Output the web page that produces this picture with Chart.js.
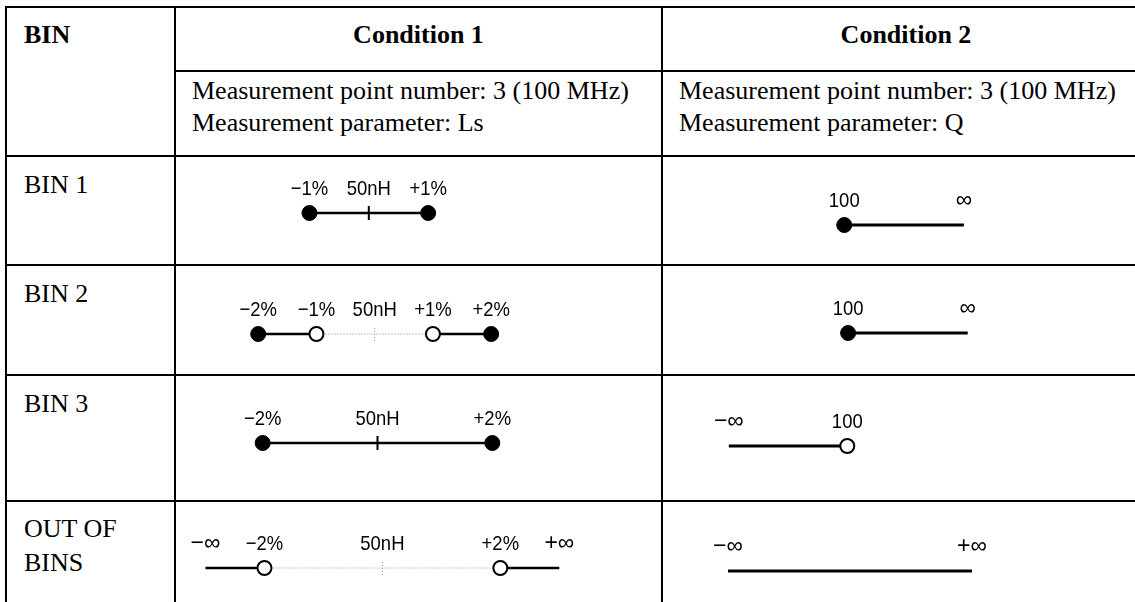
<!DOCTYPE html>
<html><head><meta charset="utf-8">
<script src="https://cdn.jsdelivr.net/npm/chart.js@4.4.1/dist/chart.umd.min.js"></script>
<style>
html,body{margin:0;padding:0;background:#fff;width:1135px;height:602px;overflow:hidden;position:relative}
.ln{position:absolute;background:#000}
.tx{position:absolute;font-family:"Liberation Serif","Times New Roman",serif;font-size:26px;line-height:32px;color:#000;white-space:nowrap}
.b{font-weight:bold}
canvas{position:absolute}
</style></head><body>
<script>
// ---------------- DATA ----------------
const columnHeaders = ['BIN', 'Condition 1', 'Condition 2'];
const conditionInfo = [
  ['Measurement point number: 3 (100 MHz)', 'Measurement parameter: Ls'],
  ['Measurement point number: 3 (100 MHz)', 'Measurement parameter: Q']
];
const binNames = [['BIN 1'], ['BIN 2'], ['BIN 3'], ['OUT OF', 'BINS']];

// Condition 1: Ls, deviation from nominal 50 nH in %
const c1Solid  = [[[-1, 1]], [[-2, -1], [1, 2]], [[-2, 2]], [[-Infinity, -2], [2, Infinity]]];
const c1Dotted = [[], [[-1, 1]], [], [[-2, 2]]];
const c1Closed = [[-1, 1], [-2, 2], [-2, 2], []];
const c1Open   = [[], [-1, 1], [], [-2, 2]];
const c1NominalTick = ['solid', 'dotted', 'solid', 'dotted'];
const c1LabelValues = [[-1, 0, 1], [-2, -1, 0, 1, 2], [-2, 0, 2], [-Infinity, -2, 0, 2, Infinity]];
const c1LabelTexts  = [['−1%', '50nH', '+1%'], ['−2%', '−1%', '50nH', '+1%', '+2%'], ['−2%', '50nH', '+2%'], ['−∞', '−2%', '50nH', '+2%', '+∞']];

// Condition 2: Q
const c2Solid  = [[[100, Infinity]], [[100, Infinity]], [[-Infinity, 100]], [[-Infinity, Infinity]]];
const c2Closed = [[100], [100], [], []];
const c2Open   = [[], [], [100], []];
const c2LabelValues = [[100, Infinity], [100, Infinity], [-Infinity, 100], [-Infinity, Infinity]];
const c2LabelTexts  = [['100', '∞'], ['100', '∞'], ['−∞', '100'], ['−∞', '+∞']];

// ---------------- LAYOUT ----------------
const colX = [6, 175, 662, 1150];
const rowY = [7, 71, 156, 265, 375, 501];
const rowLabelBaseline = [194, 303, 413, 538];
const c1Layout = [{cx:367, ppu:61.5, y:213}, {cx:373, ppu:60.5, y:334}, {cx:376, ppu:59.5, y:443}, {cx:381, ppu:61.25, y:568}];
const c2Layout = [{cx:842, ppu:1.24, y:225}, {cx:846, ppu:1.24, y:333}, {cx:845, ppu:1.23, y:446}, {cx:850, ppu:1.22, y:571}];
const c1Axis = v => v === Infinity ? 3 : v === -Infinity ? -3 : v;      // stand-in for ±∞ at axis end
const c2Axis = v => v === Infinity ? 200 : v === -Infinity ? 0 : v;

const body = document.body;
function line(x, y, w, h) {
  const d = document.createElement('div'); d.className = 'ln';
  d.style.left = x + 'px'; d.style.top = y + 'px'; d.style.width = w + 'px'; d.style.height = h + 'px';
  body.appendChild(d);
}
function text(lines, x, top, opts = {}) {
  const d = document.createElement('div'); d.className = 'tx' + (opts.bold ? ' b' : '');
  d.style.left = x + 'px'; d.style.top = top + 'px';
  if (opts.width) { d.style.width = opts.width + 'px'; d.style.textAlign = 'center'; }
  if (opts.lh) d.style.lineHeight = opts.lh + 'px';
  d.innerHTML = lines.join('<br>');
  body.appendChild(d);
}
const BASE = 24.8;
// grid
line(colX[0] - 1, rowY[0] - 1, colX[3] - colX[0] + 2, 2);
line(colX[1], rowY[1] - 1, colX[3] - colX[1], 2);
for (let i = 2; i < rowY.length; i++) line(colX[0] - 1, rowY[i] - 1, colX[3] - colX[0] + 2, 2);
for (let i = 0; i < 3; i++) line(colX[i] - 1, rowY[0] - 1, 2, 620);
// header texts
text([columnHeaders[0]], 24, 44 - BASE, {bold: true});
text([columnHeaders[1]], colX[1], 44 - BASE, {bold: true, width: colX[2] - colX[1]});
text([columnHeaders[2]], colX[2], 44 - BASE, {bold: true, width: colX[3] - colX[2]});
text(conditionInfo[0], colX[1] + 17, 100 - BASE);
text(conditionInfo[1], colX[2] + 17, 100 - BASE);
binNames.forEach((n, i) => {
  if (n.length > 1) text(n, 24, rowLabelBaseline[i] - 25.8, {lh: 34});
  else text(n, 24, rowLabelBaseline[i] - BASE);
});

// ---------------- CHARTS ----------------
const tolLabels = {
  id: 'tolLabels',
  afterDatasetsDraw(chart, args, opts) {
    const ctx = chart.ctx, xs = chart.scales.x, ys = chart.scales.y;
    ctx.save();
    ctx.fillStyle = '#000';
    ctx.textAlign = 'center'; ctx.textBaseline = 'alphabetic';
    opts.items.forEach(it => {
      const inf = it.text.indexOf('∞') >= 0;
      ctx.save();
      ctx.font = (inf ? '23px' : '21px') + ' "Liberation Sans", Arial, sans-serif';
      ctx.translate(xs.getPixelForValue(it.x), ys.getPixelForValue(0) - 18);
      ctx.scale(inf ? 1 : 0.88, 1);
      ctx.fillText(it.text, 0, 0);
      ctx.restore();
    });
    ctx.restore();
  }
};

function makeCell(left, right, lay, center, toAxis, spec) {
  const cv = document.createElement('canvas');
  const W = right - left, H = 100;
  cv.width = W; cv.height = H;
  cv.style.left = left + 'px'; cv.style.top = (lay.y - H / 2) + 'px';
  body.appendChild(cv);
  const TH = 0.17;
  const ds = [];
  ds.push({data: spec.closed.map(v => ({x: toAxis(v), y: 0})), showLine: false,
    pointRadius: 7.5, pointBackgroundColor: '#000', pointBorderColor: '#000', pointBorderWidth: 1, order: 0});
  ds.push({data: spec.open.map(v => ({x: toAxis(v), y: 0})), showLine: false,
    pointRadius: 7, pointBackgroundColor: '#fff', pointBorderColor: '#000', pointBorderWidth: 2, order: 0});
  spec.solid.forEach(s => ds.push({data: s.map(v => ({x: toAxis(v), y: 0})), showLine: true, pointRadius: 0,
    borderColor: '#000', borderWidth: spec.lw, order: 2}));
  spec.dotted.forEach(s => ds.push({data: s.map(v => ({x: toAxis(v), y: 0})), showLine: true, pointRadius: 0,
    borderColor: '#8a8a8a', borderWidth: 1, borderDash: [1, 2], order: 3}));
  if (spec.tick === 'solid') ds.push({data: [{x: 0, y: -TH}, {x: 0, y: TH}], showLine: true, pointRadius: 0,
    borderColor: '#000', borderWidth: 2, order: 1});
  if (spec.tick === 'dotted') ds.push({data: [{x: 0, y: -TH}, {x: 0, y: TH}], showLine: true, pointRadius: 0,
    borderColor: '#8a8a8a', borderWidth: 1, borderDash: [1, 2], order: 1});
  new Chart(cv, {
    type: 'scatter',
    data: {datasets: ds},
    options: {
      responsive: false, animation: false, events: [], devicePixelRatio: 1,
      layout: {padding: 0},
      plugins: {legend: {display: false}, tooltip: {enabled: false},
        tolLabels: {items: spec.labelValues.map((v, i) => ({x: toAxis(v), text: spec.labelTexts[i]}))}},
      scales: {
        x: {type: 'linear', display: false, min: center + (left - lay.cx) / lay.ppu, max: center + (right - lay.cx) / lay.ppu},
        y: {type: 'linear', display: false, min: -1, max: 1}
      }
    },
    plugins: [tolLabels]
  });
}

for (let r = 0; r < 4; r++) {
  makeCell(colX[1] + 2, colX[2] - 2, c1Layout[r], 0, c1Axis, {
    closed: c1Closed[r], open: c1Open[r], solid: c1Solid[r], dotted: c1Dotted[r], tick: c1NominalTick[r],
    labelValues: c1LabelValues[r], labelTexts: c1LabelTexts[r], lw: 2.5});
  makeCell(colX[2] + 2, colX[3] - 2, c2Layout[r], 100, c2Axis, {
    closed: c2Closed[r], open: c2Open[r], solid: c2Solid[r], dotted: [], tick: null,
    labelValues: c2LabelValues[r], labelTexts: c2LabelTexts[r], lw: 3});
}
</script></body></html>
